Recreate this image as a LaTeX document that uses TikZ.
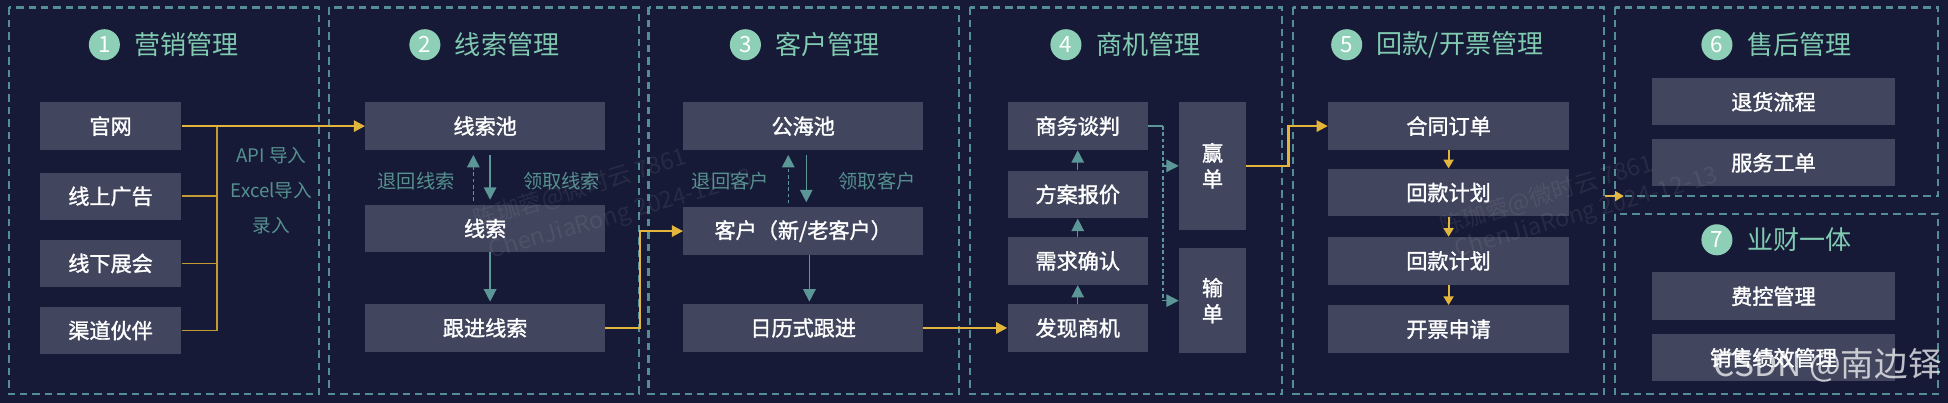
\documentclass[tikz,border=0pt]{standalone}
\usepackage{fontspec}
\setmainfont{Noto Sans CJK SC}[AutoFakeBold=1.5]
\usetikzlibrary{arrows.meta,calc}
\definecolor{bgc}{HTML}{161A36}
\definecolor{boxc}{HTML}{41455D}
\definecolor{ttl}{HTML}{7FCAB0}
\definecolor{circ}{HTML}{8ED0B7}
\definecolor{dsh}{HTML}{538F92}
\definecolor{tarc}{HTML}{5C9797}
\definecolor{lblc}{HTML}{55908F}
\definecolor{yelc}{HTML}{E3B53C}
\newcommand\mytitle[5]{%
  \node[circnode] (#1c) at (#2,#3) {#4};
  \node[ttltext, anchor=west] (#1t) at ($(#1c.center)+(24,0)$) {#5};
}
\begin{document}
\begin{tikzpicture}[x=1pt,y=-1pt,
  box/.style={fill=boxc, inner sep=0, text=white, align=center,
    font=\fontsize{17}{21}\selectfont\bfseries},
  circnode/.style={circle, fill=circ, inner sep=0, minimum size=25,
    text=white, font=\fontsize{18}{18}\selectfont},
  ttltext/.style={inner sep=0, text=ttl, font=\fontsize{21}{21}\selectfont},
  panel/.style={draw=dsh, line width=1.7, dash pattern=on 6pt off 4pt},
  lbl/.style={inner sep=0, text=lblc, font=\fontsize{15.5}{15.5}\selectfont},
  tarr/.style={draw=tarc, line width=1.2, -{Triangle[length=10,width=10]}},
  tline/.style={draw=tarc, line width=1.2},
  tdash/.style={dash pattern=on 3pt off 2pt},
  yl/.style={draw=yelc, line width=1.8, -{Triangle[length=9,width=9]}},
  ylf/.style={draw=yelc!85!black, line width=1.4},
  yls/.style={draw=yelc, line width=1.5, -{Triangle[length=7,width=8]}},
  wmf/.style={inner sep=0, text=white, text opacity=0.07, font=\fontsize{19}{19}\selectfont},
]
\useasboundingbox (0,0) rectangle (1568,324);
\fill[bgc] (0,0) rectangle (1568,324);

% panels
\draw[panel] (7,6) rectangle (257,317);
\draw[panel] (265,6) rectangle (514,317);
\draw[panel] (522,6) rectangle (772,317);
\draw[panel] (781,6) rectangle (1032,317);
\draw[panel] (1041,6) rectangle (1291,317);
\draw[panel] (1300,6) rectangle (1560,158);
\draw[panel] (1300,172) rectangle (1560,317);

% titles
\mytitle{t1}{84}{36}{1}{营销管理}
\mytitle{t2}{342}{36}{2}{线索管理}
\mytitle{t3}{600}{36}{3}{客户管理}
\mytitle{t4}{858}{36}{4}{商机管理}
\mytitle{t5}{1084}{36}{5}{回款/开票管理}
\mytitle{t6}{1382}{36}{6}{售后管理}
\mytitle{t7}{1382}{193}{7}{业财一体}

% panel 1
\node[box, minimum width=114, minimum height=38] (gw) at (89,101.5) {官网};
\node[box, minimum width=114, minimum height=38] (xsgg) at (89,158) {线上广告};
\node[box, minimum width=114, minimum height=38] (xxzh) at (89,212) {线下展会};
\node[box, minimum width=114, minimum height=38] (qdhb) at (89,266) {渠道伙伴};
\node[lbl, font=\fontsize{15}{15}\selectfont] (api) at (218.5,125) {API 导入};
\node[lbl, font=\fontsize{15}{15}\selectfont] (exc) at (218.5,153) {Excel导入};
\node[lbl, font=\fontsize{15}{15}\selectfont] (lr) at (218.5,182) {录入};

% panel 2
\node[box, minimum width=193, minimum height=38] (xsc) at (390.5,101.5) {线索池};
\node[box, minimum width=193, minimum height=38] (xs) at (390.5,184) {线索};
\node[box, minimum width=193, minimum height=38] (gjxs) at (390.5,264) {跟进线索};
\node[lbl] (thxs) at (335,146) {退回线索};
\node[lbl] (lqxs) at (452,146) {领取线索};

% panel 3
\node[box, minimum width=193, minimum height=38] (ghc) at (646.5,101.5) {公海池};
\node[box, minimum width=193, minimum height=38] (kh) at (646.5,186) {客户（新/老客户）};
\node[box, minimum width=193, minimum height=38] (rl) at (646.5,264) {日历式跟进};
\node[lbl] (thkh) at (588,146) {退回客户};
\node[lbl] (lqkh) at (706,146) {领取客户};

% panel 4
\node[box, minimum width=113, minimum height=38.5] (sw) at (867.5,101.5) {商务谈判};
\node[box, minimum width=113, minimum height=38.5] (fa) at (867.5,156.5) {方案报价};
\node[box, minimum width=113, minimum height=38.5] (xq) at (867.5,210) {需求确认};
\node[box, minimum width=113, minimum height=38.5] (fx) at (867.5,264) {发现商机};
\node[box, minimum width=54, minimum height=103] (yd) at (976,133.5) {赢\\单};
\node[box, minimum width=54, minimum height=84] (sd) at (976,242) {输\\单};

% panel 5
\node[box, minimum width=194, minimum height=38.5] (ht) at (1166,101.5) {合同订单};
\node[box, minimum width=194, minimum height=38.5] (hk1) at (1166,155) {回款计划};
\node[box, minimum width=194, minimum height=38.5] (hk2) at (1166,210) {回款计划};
\node[box, minimum width=194, minimum height=38.5] (kp) at (1166,265) {开票申请};

% panel 6 / 7
\node[box, minimum width=195, minimum height=38] (th) at (1427.5,82) {退货流程};
\node[box, minimum width=195, minimum height=38] (fw) at (1427.5,131) {服务工单};
\node[box, minimum width=195, minimum height=38.5] (fk) at (1427.5,238.5) {费控管理};
\node[box, minimum width=195, minimum height=38] (xsjx) at (1427.5,288) {销售绩效管理};

% teal arrows panel 2
\draw[tarr, tdash, shorten <=3, shorten >=4] ([xshift=-9.5]xs.north) -- ([xshift=-9.5]xsc.south);
\draw[tarr, shorten <=4, shorten >=4] ([xshift=4]xsc.south) -- ([xshift=4]xs.north);
\draw[tarr, shorten >=2] ([xshift=4]xs.south) -- ([xshift=4]gjxs.north);
% teal arrows panel 3
\draw[tarr, tdash, shorten <=3, shorten >=4] ([xshift=-12]kh.north) -- ([xshift=-12]ghc.south);
\draw[tarr, shorten <=4, shorten >=4] ([xshift=2.5]ghc.south) -- ([xshift=2.5]kh.north);
\draw[tarr, shorten >=2] ([xshift=5]kh.south) -- ([xshift=5]rl.north);
% teal arrows panel 4
\draw[tarr] (fx.north) -- (xq.south);
\draw[tarr] (xq.north) -- (fa.south);
\draw[tarr] (fa.north) -- (sw.south);
\coordinate (br) at ($(sw.east)+(12,0)$);
\draw[tline] (sw.east) -- (br);
\draw[tline, tdash] (br) -- (br |- sd.west);
\draw[tarr] (br |- sd.west) -- (sd.west);
\draw[tarr] (br |- yd.west) -- (yd.west);

% yellow connectors
\coordinate (bar) at (174.5,0);
\draw[ylf] (xsgg.east) -- (xsgg.east -| bar);
\draw[ylf] (xxzh.east) -- (xxzh.east -| bar);
\draw[ylf] (qdhb.east) -- (qdhb.east -| bar) -- (gw.east -| bar);
\draw[yl] (gw.east) -- (xsc.west);
\draw[yl] (gjxs.east) -- ++(28,0) |- (kh.west);
\draw[yl] (rl.east) -- (rl.east -| fx.west);
\draw[yl] (yd.east) -- ++(34,0) |- (ht.west);
\draw[yls] (ht.south) -- (hk1.north);
\draw[yls] (hk1.south) -- (hk2.north);
\draw[yls] (hk2.south) -- (kp.north);
\coordinate (s1) at (1292,157.8);
\coordinate (s2) at (1307,157.8);
\draw[yls] (s1) -- (s2);

% watermarks
\node[wmf, rotate=17] (w1a) at (467,152) {陈珈蓉@微时云 7861};
\node[wmf, rotate=16] (w1b) at (500,173) {ChenJiaRong 2024-12-13};
\node[wmf, rotate=17] (w2a) at (1245,157) {陈珈蓉@微时云 7861};
\node[wmf, rotate=16] (w2b) at (1277,172) {ChenJiaRong 2024-12-13};
\node[inner sep=0, anchor=east, text=white, text opacity=0.72,
  font=\fontsize{27}{27}\selectfont] (csdn) at (1563,294) {CSDN @南边铎};
\end{tikzpicture}
\end{document}
